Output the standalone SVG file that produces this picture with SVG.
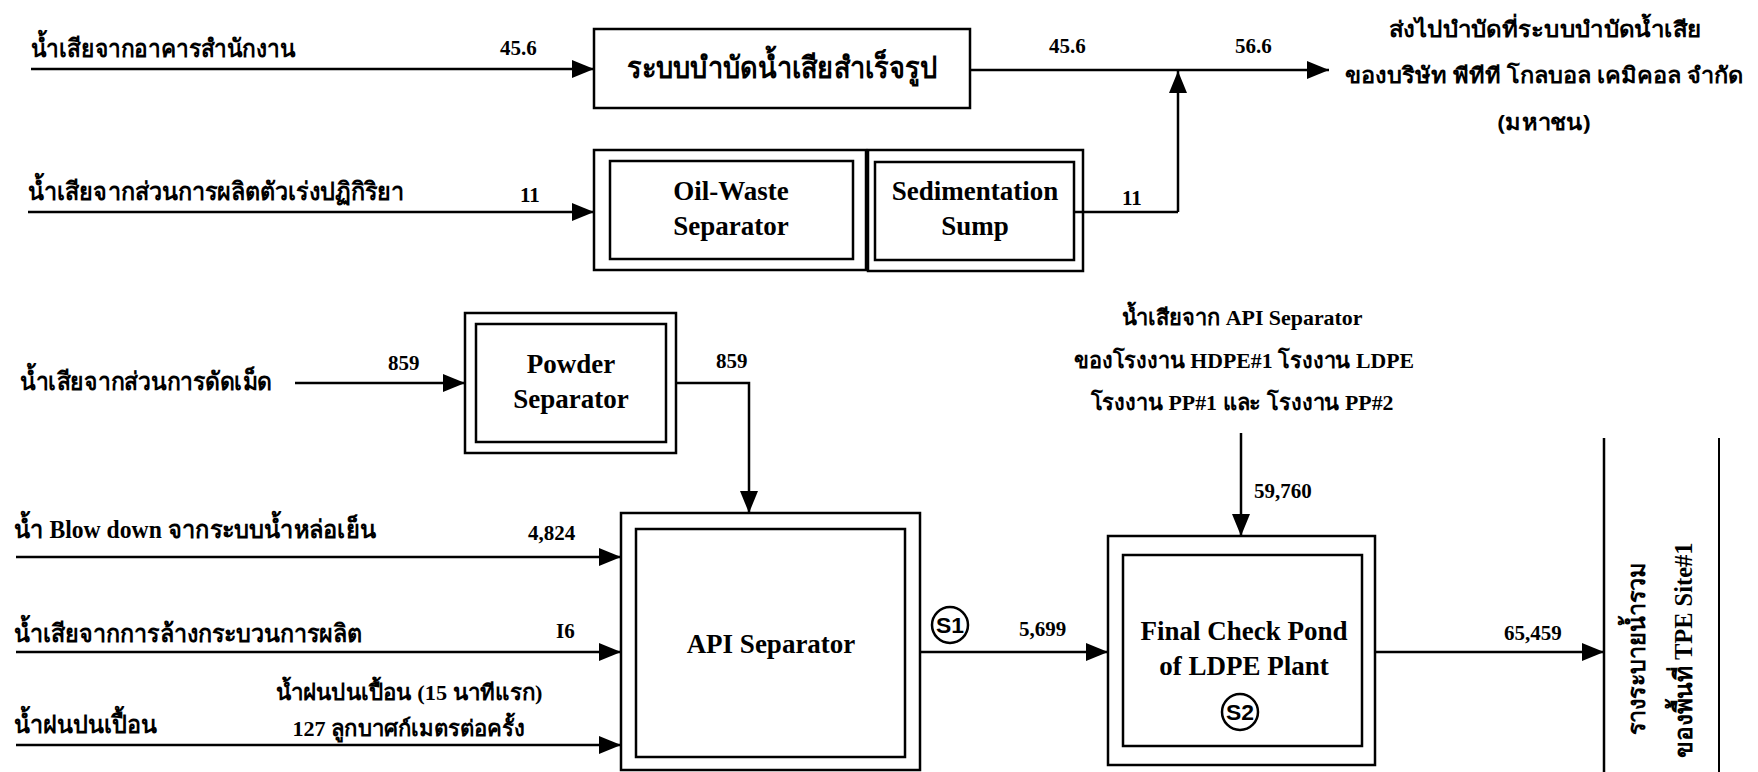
<svg xmlns="http://www.w3.org/2000/svg" width="1758" height="772" viewBox="0 0 1758 772">
<style>
.ln{stroke:#000;stroke-width:2.5;fill:none}
.bx{fill:none;stroke:#000;stroke-width:2.5}
.th{font-family:"Noto Sans","DejaVu Sans",sans-serif;font-size:25px;font-weight:bold;fill:#000}
.ths{font-family:"Noto Sans","DejaVu Sans",sans-serif;font-size:22px;font-weight:bold;fill:#000}
.thb{font-family:"Noto Sans","DejaVu Sans",sans-serif;font-size:30px;font-weight:bold;fill:#000}
.lt{font-family:"Liberation Serif",serif;font-weight:bold;font-size:27px;fill:#000}
.num{font-family:"Liberation Serif",serif;font-weight:bold;font-size:21px;fill:#000}
.sl{font-family:"Liberation Sans",sans-serif;font-weight:bold;font-size:22px;fill:#000}
.ser{font-family:"Liberation Serif",serif}
.c{text-anchor:middle}
</style>
<defs>
<marker id="ah" markerUnits="userSpaceOnUse" markerWidth="22" markerHeight="18" refX="22" refY="9" orient="auto">
<path d="M0,0 L22,9 L0,18 z" fill="#000"/>
</marker>
</defs>
<g id="connectors">
<line class="ln" x1="31" y1="69" x2="594" y2="69" marker-end="url(#ah)"/>
<line class="ln" x1="970" y1="70" x2="1329" y2="70" marker-end="url(#ah)"/>
<line class="ln" x1="1074" y1="212" x2="1178" y2="212"/>
<line class="ln" x1="1178" y1="212" x2="1178" y2="71" marker-end="url(#ah)"/>
<line class="ln" x1="28" y1="212" x2="594" y2="212" marker-end="url(#ah)"/>
<line class="ln" x1="295" y1="383" x2="465" y2="383" marker-end="url(#ah)"/>
<polyline class="ln" points="676,383 749,383 749,513" marker-end="url(#ah)"/>
<line class="ln" x1="16" y1="557" x2="621" y2="557" marker-end="url(#ah)"/>
<line class="ln" x1="16" y1="652" x2="621" y2="652" marker-end="url(#ah)"/>
<line class="ln" x1="16" y1="745" x2="621" y2="745" marker-end="url(#ah)"/>
<line class="ln" x1="1241" y1="433" x2="1241" y2="536" marker-end="url(#ah)"/>
<line class="ln" x1="920" y1="652" x2="1108" y2="652" marker-end="url(#ah)"/>
<line class="ln" x1="1375" y1="652" x2="1604" y2="652" marker-end="url(#ah)"/>
<line class="ln" x1="1604" y1="438" x2="1604" y2="772"/>
<line class="ln" x1="1719" y1="438" x2="1719" y2="772" style="stroke-width:2"/>
</g>
<g id="labels">
<text class="th" x="31" y="57" textLength="264" lengthAdjust="spacingAndGlyphs">น้ำเสียจากอาคารสำนักงาน</text>
<text class="num" x="500" y="55">45.6</text>
<text class="num" x="1049" y="53">45.6</text>
<text class="num" x="1235" y="53">56.6</text>
<text class="num" x="1122" y="205">11</text>
<text class="ths c" x="1545" y="37" textLength="312" lengthAdjust="spacingAndGlyphs">ส่งไปบำบัดที่ระบบบำบัดน้ำเสีย</text>
<text class="ths c" x="1544" y="83" textLength="398" lengthAdjust="spacingAndGlyphs">ของบริษัท พีทีที โกลบอล เคมิคอล จำกัด</text>
<text class="ths c" x="1544" y="130" textLength="93" lengthAdjust="spacingAndGlyphs">(มหาชน)</text>
<text class="th" x="28" y="200" textLength="376" lengthAdjust="spacingAndGlyphs">น้ำเสียจากส่วนการผลิตตัวเร่งปฏิกิริยา</text>
<text class="num" x="520" y="202">11</text>
<text class="th" x="20" y="390" textLength="252" lengthAdjust="spacingAndGlyphs">น้ำเสียจากส่วนการดัดเม็ด</text>
<text class="num" x="388" y="370">859</text>
<text class="num" x="716" y="368">859</text>
<text class="th" x="14" y="538" textLength="362" lengthAdjust="spacingAndGlyphs">น้ำ <tspan class="ser">Blow down</tspan> จากระบบน้ำหล่อเย็น</text>
<text class="num" x="528" y="540">4,824</text>
<text class="th" x="14" y="642" textLength="348" lengthAdjust="spacingAndGlyphs">น้ำเสียจากการล้างกระบวนการผลิต</text>
<text class="num" x="556" y="638">I6</text>
<text class="th" x="14" y="733" textLength="143" lengthAdjust="spacingAndGlyphs">น้ำฝนปนเปื้อน</text>
<text class="ths c" x="409" y="700" textLength="267" lengthAdjust="spacingAndGlyphs">น้ำฝนปนเปื้อน <tspan class="ser">(15</tspan> นาทีแรก<tspan class="ser">)</tspan></text>
<text class="ths c" x="409" y="736" textLength="233" lengthAdjust="spacingAndGlyphs"><tspan class="ser">127</tspan> ลูกบาศก์เมตรต่อครั้ง</text>
<text class="ths c" x="1242" y="325" textLength="241" lengthAdjust="spacingAndGlyphs">น้ำเสียจาก <tspan class="ser">API Separator</tspan></text>
<text class="ths c" x="1244" y="368" textLength="340" lengthAdjust="spacingAndGlyphs">ของโรงงาน <tspan class="ser">HDPE#1</tspan> โรงงาน <tspan class="ser">LDPE</tspan></text>
<text class="ths c" x="1242" y="410" textLength="303" lengthAdjust="spacingAndGlyphs">โรงงาน <tspan class="ser">PP#1</tspan> และ โรงงาน <tspan class="ser">PP#2</tspan></text>
<text class="num" x="1254" y="498">59,760</text>
<text class="num" x="1019" y="636">5,699</text>
<text class="num" x="1504" y="640">65,459</text>
<text class="th c" transform="translate(1645,649) rotate(-90)" x="0" y="0" textLength="172" lengthAdjust="spacingAndGlyphs">รางระบายน้ำรวม</text>
<text class="th c" transform="translate(1692,650) rotate(-90)" x="0" y="0" textLength="215" lengthAdjust="spacingAndGlyphs">ของพื้นที่ <tspan class="ser">TPE Site#1</tspan></text>
</g>
<g id="node-office-wwtp">
<rect class="bx" x="594" y="29" width="376" height="79"/>
<text class="thb c" x="782" y="78" textLength="310" lengthAdjust="spacingAndGlyphs">ระบบบำบัดน้ำเสียสำเร็จรูป</text>
</g>
<g id="node-oil-waste">
<rect class="bx" x="594" y="150" width="272" height="120"/>
<rect class="bx" x="610" y="161" width="243" height="98"/>
<text class="lt c" x="731" y="200">Oil-Waste</text>
<text class="lt c" x="731" y="235">Separator</text>
</g>
<g id="node-sedimentation">
<rect class="bx" x="868" y="150" width="215" height="121"/>
<rect class="bx" x="875" y="162" width="199" height="98"/>
<text class="lt c" x="975" y="200">Sedimentation</text>
<text class="lt c" x="975" y="235">Sump</text>
</g>
<g id="node-powder">
<rect class="bx" x="465" y="313" width="211" height="140"/>
<rect class="bx" x="476" y="324" width="190" height="118"/>
<text class="lt c" x="571" y="373">Powder</text>
<text class="lt c" x="571" y="408">Separator</text>
</g>
<g id="node-api">
<rect class="bx" x="621" y="513" width="299" height="257"/>
<rect class="bx" x="636" y="529" width="269" height="228"/>
<text class="lt c" x="771" y="653">API Separator</text>
<circle class="bx" cx="950" cy="625" r="18"/>
<text class="sl c" x="950" y="633" textLength="28" lengthAdjust="spacingAndGlyphs">S1</text>
</g>
<g id="node-final-check">
<rect class="bx" x="1108" y="536" width="267" height="229"/>
<rect class="bx" x="1123" y="555" width="239" height="191"/>
<text class="lt c" x="1244" y="640">Final Check Pond</text>
<text class="lt c" x="1244" y="675">of LDPE Plant</text>
<circle class="bx" cx="1240" cy="712" r="18"/>
<text class="sl c" x="1240" y="720" textLength="28" lengthAdjust="spacingAndGlyphs">S2</text>
</g>
</svg>
